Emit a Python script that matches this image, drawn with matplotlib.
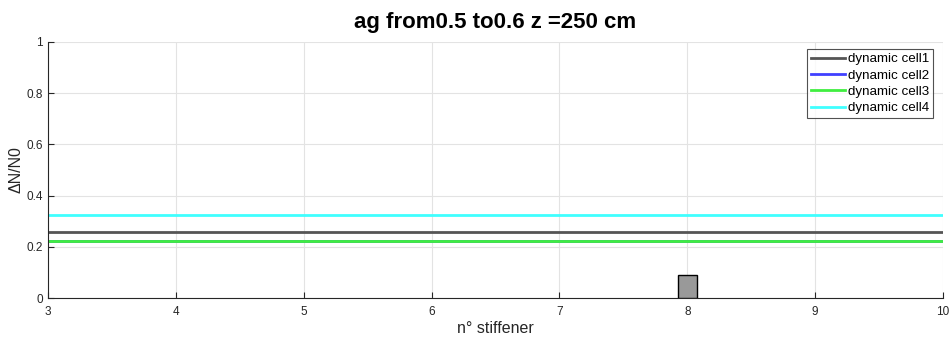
import matplotlib
matplotlib.use("Agg")
import matplotlib.pyplot as plt

plt.rcParams['font.family'] = ['Liberation Sans', 'DejaVu Sans']

x_range = [3, 10]
series_names = ["dynamic cell1", "dynamic cell2", "dynamic cell3", "dynamic cell4"]
series_values = [0.258, 0.223, 0.224, 0.325]
series_colors = ["#555555", "#4040ff", "#40ee40", "#40ffff"]
bar_x = [8]
bar_h = [0.091]

fig = plt.figure(figsize=(9.53, 3.4), dpi=100)
ax = fig.add_axes([0.0504, 0.1235, 0.9391, 0.753])

for name, v, c in zip(series_names, series_values, series_colors):
    ax.plot(x_range, [v, v], color=c, lw=2, label=name)

ax.bar(bar_x, bar_h, width=0.15, color="#999999", edgecolor="black", lw=1, zorder=3)

ax.set_xlim(3, 10)
ax.set_ylim(0, 1)
ax.set_xticks(range(3, 11))
ax.set_yticks([0, 0.2, 0.4, 0.6, 0.8, 1])
ax.set_yticklabels(["0", "0.2", "0.4", "0.6", "0.8", "1"])
ax.grid(True, color="#e3e3e3", lw=0.8)
ax.set_axisbelow(True)
for s in ["top", "right"]:
    ax.spines[s].set_visible(False)
for s in ["left", "bottom"]:
    ax.spines[s].set_color("#262626")
    ax.spines[s].set_linewidth(0.8)
ax.tick_params(direction="in", length=4, labelsize=8.5, colors="#262626", width=0.8)
ax.tick_params(axis="x", pad=6)

ax.set_xlabel("n° stiffener", fontsize=11.5, color="#262626", labelpad=2)
ax.set_ylabel("ΔN/N0", fontsize=11.5, color="#262626", labelpad=2)
ax.set_title("ag from0.5 to0.6 z =250 cm", fontsize=16, fontweight="bold", pad=10)

leg = ax.legend(loc="upper right", bbox_to_anchor=(0.989, 0.973), fontsize=9.6,
                frameon=True, fancybox=False, edgecolor="#262626",
                handlelength=2.5, handletextpad=0.25, borderpad=0.3,
                labelspacing=0.3, borderaxespad=0)
leg.get_frame().set_linewidth(0.8)

fig.savefig("out.png", dpi=100)
